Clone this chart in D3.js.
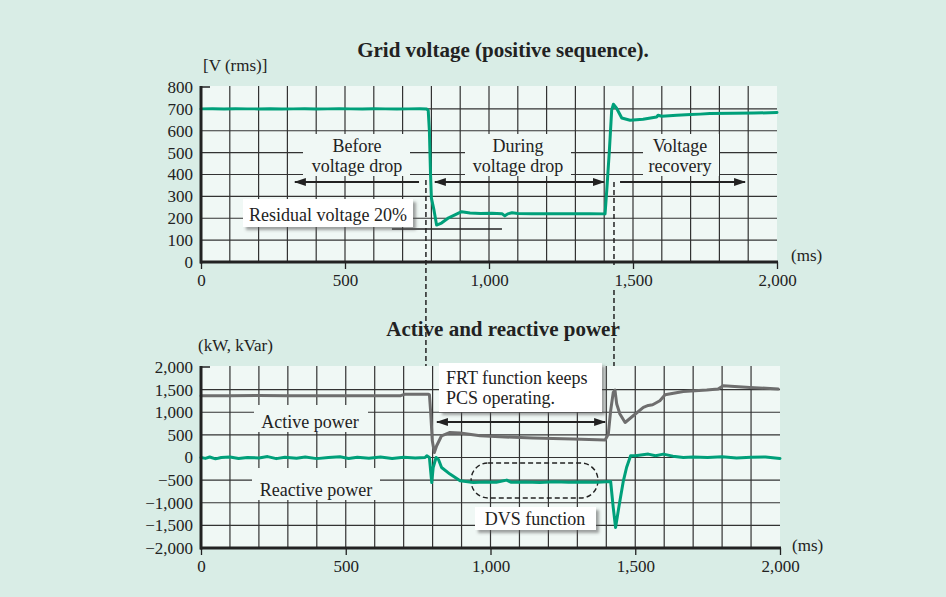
<!DOCTYPE html>
<html>
<head>
<meta charset="utf-8">
<script src="https://cdn.jsdelivr.net/npm/d3@7"></script>
<style>
  html, body { margin: 0; padding: 0; background: #d9ede6; }
  svg { display: block; }
  text { font-family: "Liberation Serif", "Times New Roman", serif; fill: #222; }
</style>
</head>
<body>
<svg id="chart" width="946" height="597"></svg>
<script>
// ---------- DATA ----------
const timeTicks = [0, 500, 1000, 1500, 2000];
const voltageTicks = [0, 100, 200, 300, 400, 500, 600, 700, 800];
const powerTicks = [-2000, -1500, -1000, -500, 0, 500, 1000, 1500, 2000];

// Grid voltage, positive sequence [ms, V(rms)]
const voltage = [
  [0,700],[40,701],[80,699],[120,701],[160,700],[200,700],[240,701],[280,699],[320,700],
  [360,701],[400,699],[440,700],[480,701],[520,700],[560,699],[600,701],[640,700],[680,699],
  [720,700],[760,701],[784,699],[789,692],[793,600],[797,400],[800,292],[809,237],[818,169],
  [835,178],[860,202],[905,230],[934,224],[970,222],[1010,223],[1045,221],[1055,211],
  [1065,220],[1080,225],[1100,222],[1150,221],[1250,221],[1350,221],[1403,220],[1409,330],
  [1418,510],[1426,694],[1432,721],[1443,703],[1461,658],[1490,648],[1535,653],[1582,663],
  [1587,671],[1600,666],[1652,671],[1700,674],[1733,676],[1767,679],[1847,680],[1920,681],[2000,683]
];

// Active power [ms, kW]
const activePower = [
  [0,1365],[100,1365],[200,1368],[300,1365],[400,1366],[500,1365],[600,1366],[690,1366],
  [705,1400],[784,1400],[789,1390],[793,1033],[799,369],[806,111],[814,259],[831,480],
  [860,553],[895,539],[964,480],[1033,458],[1147,429],[1285,407],[1396,385],[1407,517],
  [1415,1033],[1424,1438],[1430,1490],[1436,1181],[1447,960],[1465,774],[1493,922],
  [1528,1106],[1545,1150],[1560,1165],[1585,1254],[1603,1387],[1666,1460],[1747,1490],
  [1786,1513],[1804,1586],[1896,1549],[1994,1513]
];

// Reactive power [ms, kVar]
const reactivePower = [
  [0,0],[15,-20],[30,10],[50,-30],[70,0],[100,10],[130,-20],[160,0],[200,-10],[230,20],
  [260,-25],[290,5],[330,-15],[360,10],[400,-25],[440,0],[480,15],[510,-20],[540,5],
  [580,-15],[620,10],[660,-20],[700,5],[740,-10],[774,0],[780,40],[789,0],[797,-553],
  [802,-221],[812,0],[820,-40],[831,-221],[860,-367],[895,-515],[941,-553],[980,-540],
  [1020,-545],[1056,-500],[1070,-545],[1120,-540],[1170,-550],[1220,-535],[1270,-545],
  [1320,-540],[1370,-545],[1415,-530],[1424,-1106],[1432,-1548],[1445,-1031],[1459,-515],
  [1470,-221],[1484,37],[1500,40],[1545,75],[1570,40],[1597,75],[1630,30],[1666,0],
  [1700,10],[1750,0],[1800,15],[1850,-10],[1900,5],[1950,10],[2000,-20]
];

// ---------- SETUP ----------
const svg = d3.select("#chart");
const GREEN = "#00a07a", GRAY = "#6e6e6e", INK = "#222", GRID = "#333", PLOTBG = "#f0f8f5";
const fmt = d3.format(",");

const defs = svg.append("defs");
const sh = defs.append("filter").attr("id","shadow").attr("x","-10%").attr("y","-20%").attr("width","130%").attr("height","160%");
sh.append("feDropShadow").attr("dx",3).attr("dy",3).attr("stdDeviation",1.6)
  .attr("flood-color","#555").attr("flood-opacity",0.55);
function arrowMarker(id, orient) {
  defs.append("marker").attr("id", id).attr("viewBox","0 0 12 8").attr("refX",11).attr("refY",4)
    .attr("markerWidth",12).attr("markerHeight",8).attr("markerUnits","userSpaceOnUse")
    .attr("orient", orient)
    .append("path").attr("d","M0,0 L12,4 L0,8 Z").attr("fill", INK);
}
arrowMarker("arrEnd","auto");
arrowMarker("arrStart","auto-start-reverse");

const xTop = d3.scaleLinear().domain([0,2000]).range([201,777]);
const yTop = d3.scaleLinear().domain([0,800]).range([262,87]);
const xBot = d3.scaleLinear().domain([0,2000]).range([201,780]);
const yBot = d3.scaleLinear().domain([-2000,2000]).range([548,367]);

function panel(x, y, yTicks, gridY) {
  const g = svg.append("g");
  const [x0,x1] = x.range(), [y0,y1] = y.range();
  g.append("rect").attr("x",x0).attr("y",y1-1).attr("width",x1-x0).attr("height",y0-y1+1).attr("fill",PLOTBG);
  const gridX = x.ticks(20).filter(t => t > 0 && t < 2000);
  g.selectAll(".gx").data(gridX).join("line")
    .attr("x1",d=>x(d)).attr("x2",d=>x(d)).attr("y1",y1-1).attr("y2",y0)
    .attr("stroke",GRID).attr("stroke-width",1.2);
  g.selectAll(".gy").data(gridY).join("line")
    .attr("x1",x0).attr("x2",x1).attr("y1",d=>y(d)).attr("y2",d=>y(d))
    .attr("stroke",GRID).attr("stroke-width",1.2);
  return g;
}

function axes(x, y, yTicks) {
  const [x0,x1] = x.range(), [y0,y1] = y.range();
  const ax = svg.append("g").attr("transform",`translate(0,${y0})`)
    .call(d3.axisBottom(x).tickValues(timeTicks).tickFormat(fmt).tickSize(7).tickPadding(5));
  ax.select(".domain").remove();
  ax.selectAll("line").attr("stroke",INK).attr("stroke-width",1.3);
  ax.selectAll("text").style("font-size","17px").style("font-family",'"Liberation Serif", serif').attr("fill",INK);
  svg.append("line").attr("x1",x0-1).attr("x2",x1+1).attr("y1",y0).attr("y2",y0).attr("stroke",INK).attr("stroke-width",3);

  const ay = svg.append("g").attr("transform",`translate(${x0},0)`)
    .call(d3.axisLeft(y).tickValues(yTicks).tickFormat(fmt).tickSize(0).tickPadding(8));
  ay.select(".domain").remove();
  ay.selectAll("text").style("font-size","17px").style("font-family",'"Liberation Serif", serif').attr("fill",INK);
  svg.append("line").attr("x1",x0).attr("x2",x0).attr("y1",y1-1).attr("y2",y0+1.5).attr("stroke",INK).attr("stroke-width",3);
  // top tick
  svg.append("line").attr("x1",x0).attr("x2",x0+9).attr("y1",y1).attr("y2",y1).attr("stroke",INK).attr("stroke-width",1.5);
}

function labelBox(cx, lines, x0, x1, yA, yB, baselines) {
  svg.append("rect").attr("x",x0).attr("y",yA).attr("width",x1-x0).attr("height",yB-yA).attr("fill",PLOTBG);
  lines.forEach((t,i) => svg.append("text").attr("x",cx).attr("y",baselines[i])
    .attr("text-anchor","middle").style("font-size","18px").text(t));
}
function whiteBox(x0, x1, yA, yB) {
  svg.append("rect").attr("x",x0).attr("y",yA).attr("width",x1-x0).attr("height",yB-yA)
    .attr("fill","#fff").attr("filter","url(#shadow)");
}
function arrow(xa, xb, yy, startHead, endHead) {
  const l = svg.append("line").attr("x1",xa).attr("x2",xb).attr("y1",yy).attr("y2",yy)
    .attr("stroke",INK).attr("stroke-width",2.2);
  if (startHead) l.attr("marker-start","url(#arrStart)");
  if (endHead) l.attr("marker-end","url(#arrEnd)");
}

// ---------- TOP PANEL ----------
panel(xTop, yTop, voltageTicks, voltageTicks.filter(v => v > 0 && v < 800));

// label boxes (hide grid)
labelBox(357, ["Before","voltage drop"], 303, 410, 134, 176, [152, 172]);
labelBox(518, ["During","voltage drop"], 465, 571, 134, 176, [152, 172]);
labelBox(680, ["Voltage","recovery"], 643, 719, 134, 176, [152, 172]);

// dashed event lines
const tFault = 781, tClear = 1434;
svg.append("line").attr("x1",xTop(tFault)).attr("x2",xTop(tFault)).attr("y1",180).attr("y2",517)
  .attr("stroke",INK).attr("stroke-width",1.5).attr("stroke-dasharray","5,3");
svg.append("line").attr("x1",xTop(tClear)).attr("x2",xTop(tClear)).attr("y1",182).attr("y2",265)
  .attr("stroke",INK).attr("stroke-width",1.5).attr("stroke-dasharray","5,3");
svg.append("line").attr("x1",xTop(tClear)).attr("x2",xTop(tClear)).attr("y1",290).attr("y2",505)
  .attr("stroke",INK).attr("stroke-width",1.5).attr("stroke-dasharray","5,3");

// arrows
arrow(xTop(757), xTop(326), 182, false, true);
arrow(xTop(812), xTop(1399), 182, true, true);
arrow(xTop(1455), xTop(1889), 182, false, true);

// residual voltage level line
svg.append("line").attr("x1",xTop(663)).attr("x2",xTop(1045)).attr("y1",yTop(151)).attr("y2",yTop(151))
  .attr("stroke",INK).attr("stroke-width",1.4);

whiteBox(243, 413, 199, 227);
svg.append("text").attr("x",328).attr("y",221).attr("text-anchor","middle").style("font-size","18px").text("Residual voltage 20%");

const lineTop = d3.line().x(d => xTop(d[0])).y(d => yTop(d[1]));
svg.append("path").datum(voltage).attr("d",lineTop).attr("fill","none")
  .attr("stroke",GREEN).attr("stroke-width",3).attr("stroke-linejoin","round").attr("stroke-linecap","round");

axes(xTop, yTop, voltageTicks);

svg.append("text").attr("x",503).attr("y",57).attr("text-anchor","middle")
  .style("font-size","21px").style("font-weight","bold").text("Grid voltage (positive sequence).");
svg.append("text").attr("x",203).attr("y",71).style("font-size","17px").text("[V (rms)]");
svg.append("text").attr("x",791).attr("y",261).style("font-size","17px").text("(ms)");

// ---------- BOTTOM PANEL ----------
panel(xBot, yBot, powerTicks, powerTicks.filter(v => v > -2000 && v < 2000));

labelBox(310, ["Active power"], 254, 368, 405, 432, [428]);
labelBox(316, ["Reactive power"], 252, 380, 468, 500, [496]);

const lineBot = d3.line().x(d => xBot(d[0])).y(d => yBot(d[1]));

// dashed pill around DVS region
svg.append("rect").attr("x",xBot(933)).attr("y",463).attr("width",xBot(1371)-xBot(933)).attr("height",35)
  .attr("rx",17).attr("ry",17).attr("fill","none").attr("stroke",INK).attr("stroke-width",1.4).attr("stroke-dasharray","5,3");

svg.append("path").datum(activePower).attr("d",lineBot).attr("fill","none")
  .attr("stroke",GRAY).attr("stroke-width",3).attr("stroke-linejoin","round").attr("stroke-linecap","round");
svg.append("path").datum(reactivePower).attr("d",lineBot).attr("fill","none")
  .attr("stroke",GREEN).attr("stroke-width",3).attr("stroke-linejoin","round").attr("stroke-linecap","round");

whiteBox(439, 602, 363, 412);
svg.append("text").attr("x",446).attr("y",384).style("font-size","18px").text("FRT function keeps");
svg.append("text").attr("x",446).attr("y",404).style("font-size","18px").text("PCS operating.");
arrow(xBot(815), xBot(1396), 422, true, true);

whiteBox(475, 596, 507, 530);
svg.append("text").attr("x",535).attr("y",525).attr("text-anchor","middle").style("font-size","18px").text("DVS function");

axes(xBot, yBot, powerTicks);

svg.append("text").attr("x",503).attr("y",336).attr("text-anchor","middle")
  .style("font-size","21px").style("font-weight","bold").text("Active and reactive power");
svg.append("text").attr("x",198).attr("y",351).style("font-size","17px").text("(kW, kVar)");
svg.append("text").attr("x",792).attr("y",551).style("font-size","17px").text("(ms)");
</script>
</body>
</html>
